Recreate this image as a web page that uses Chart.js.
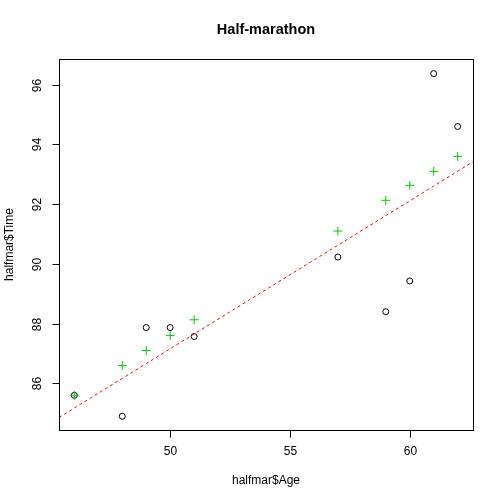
<!DOCTYPE html>
<html>
<head>
<meta charset="utf-8">
<script src="https://cdn.jsdelivr.net/npm/chart.js@4"></script>
<style>
    html, body { margin: 0; padding: 0; background: #fff; }
    #wrap { width: 504px; height: 504px; }
</style>
</head>
<body>
<div id="wrap"><canvas id="myChart" width="504" height="504"></canvas></div>
<script>
// ages and times
const ages = [46, 48, 49, 50, 51, 57, 59, 60, 61, 62];
const times = [85.6, 84.9, 87.87, 87.87, 87.57, 90.23, 88.4, 89.43, 96.37, 94.6];
// green crosses
const predicted = [85.6, 86.6, 87.1, 87.6, 88.13, 91.1, 92.13, 92.63, 93.1, 93.6];
// red dashed line endpoints (at the axis limits)
const lineAges = [45.36, 62.64];
const lineTimes = [84.86, 93.42];

const xTicks = [50, 55, 60];
const yTicks = [86, 88, 90, 92, 94, 96];
const xRange = [45.36, 62.64];
const yRange = [84.44, 96.86];

const FONT = '"Liberation Sans", Arial, sans-serif';

// R style box, ticks and labels, drawn from the chart's scales
const rAxes = {
    id: 'rAxes',
    afterDraw(chart) {
        const ctx = chart.ctx;
        const area = chart.chartArea;
        const xs = chart.scales.x;
        const ys = chart.scales.y;
        const left = Math.round(area.left) + 0.5;
        const right = Math.round(area.right) + 0.5;
        const top = Math.round(area.top) + 0.5;
        const bottom = Math.round(area.bottom) + 0.5;

        ctx.save();
        ctx.strokeStyle = '#000';
        ctx.lineWidth = 1;
        ctx.strokeRect(left, top, right - left, bottom - top);

        ctx.fillStyle = '#000';
        ctx.font = '12px ' + FONT;
        ctx.textAlign = 'center';
        ctx.textBaseline = 'middle';

        // x axis
        xTicks.forEach(v => {
            const px = Math.round(xs.getPixelForValue(v)) + 0.5;
            ctx.beginPath();
            ctx.moveTo(px, bottom);
            ctx.lineTo(px, bottom + 7);
            ctx.stroke();
            ctx.fillText(String(v), px, 452);
        });

        // y axis
        yTicks.forEach(v => {
            const py = Math.round(ys.getPixelForValue(v)) + 0.5;
            ctx.beginPath();
            ctx.moveTo(left, py);
            ctx.lineTo(left - 7, py);
            ctx.stroke();
            ctx.save();
            ctx.translate(38, py);
            ctx.rotate(-Math.PI / 2);
            ctx.fillText(String(v), 0, 0);
            ctx.restore();
        });

        const midX = (area.left + area.right) / 2;
        const midY = (area.top + area.bottom) / 2;
        ctx.fillText('halfmar$Age', midX, 481);
        ctx.save();
        ctx.translate(10, midY);
        ctx.rotate(-Math.PI / 2);
        ctx.fillText('halfmar$Time', 0, 0);
        ctx.restore();

        ctx.font = 'bold 14.5px ' + FONT;
        ctx.fillText('Half-marathon', midX, 30);
        ctx.restore();
    }
};

const ctx = document.getElementById('myChart');

new Chart(ctx, {
    type: 'scatter',
    data: {
        datasets: [{
            label: 'Time',
            data: ages.map((a, i) => ({ x: a, y: times[i] })),
            pointStyle: 'circle',
            pointRadius: 3,
            backgroundColor: 'rgba(0,0,0,0)',
            borderColor: '#000',
            borderWidth: 1,
            order: 3
        }, {
            label: 'Predicted',
            data: ages.map((a, i) => ({ x: a, y: predicted[i] })),
            pointStyle: 'cross',
            pointRadius: 4.5,
            borderColor: '#00CD00',
            borderWidth: 1,
            order: 2
        }, {
            type: 'line',
            label: 'Fit',
            data: lineAges.map((a, i) => ({ x: a, y: lineTimes[i] })),
            borderColor: '#FF0000',
            borderWidth: 1,
            borderDash: [3, 3],
            pointRadius: 0,
            fill: false,
            order: 1
        }]
    },
    options: {
        responsive: false,
        animation: false,
        devicePixelRatio: 1,
        layout: {
            padding: { left: 59, right: 31, top: 59, bottom: 74 }
        },
        plugins: {
            legend: { display: false },
            tooltip: { enabled: false }
        },
        scales: {
            x: { type: 'linear', display: false, min: xRange[0], max: xRange[1] },
            y: { type: 'linear', display: false, min: yRange[0], max: yRange[1] }
        }
    },
    plugins: [rAxes]
});
</script>
</body>
</html>
